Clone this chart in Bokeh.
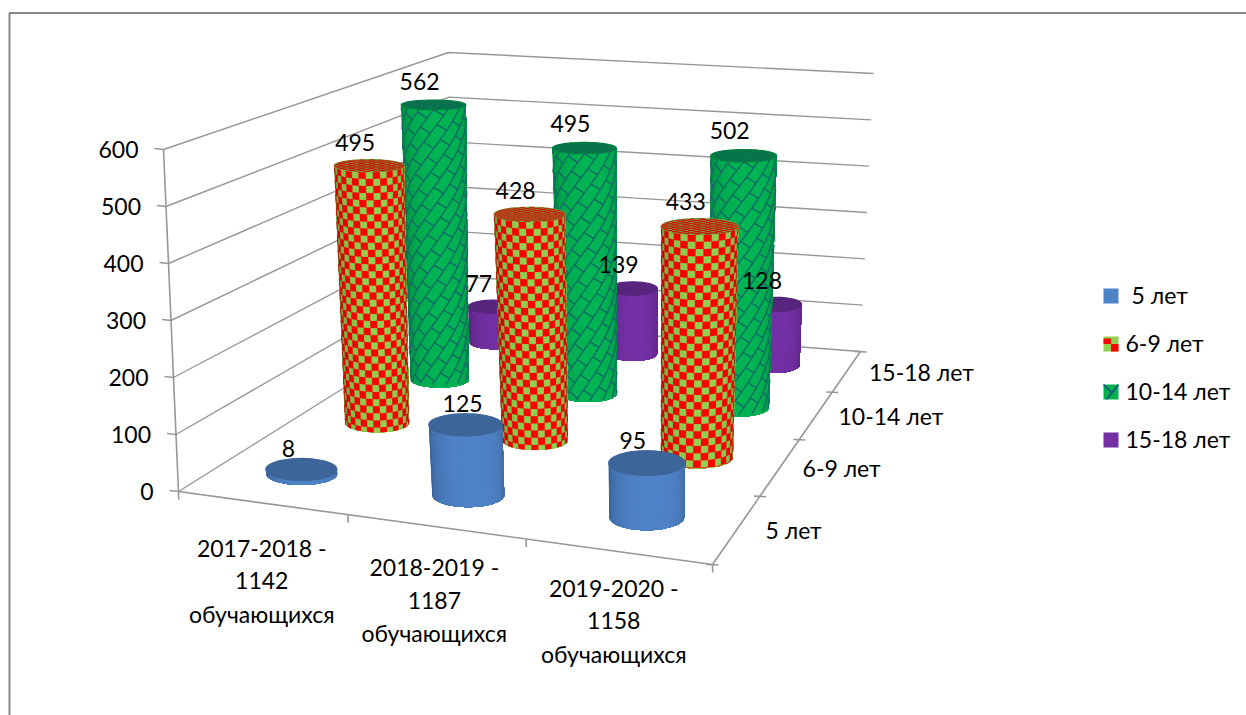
import math
import numpy as np
from bokeh.plotting import figure
from bokeh.models import ColumnDataSource
from bokeh.core.properties import value
from bokeh.embed import file_html
from bokeh.resources import INLINE

# ---------- data ----------
years = [["2017-2018 -", "1142", "обучающихся"],
         ["2018-2019 -", "1187", "обучающихся"],
         ["2019-2020 -", "1158", "обучающихся"]]
series_names = ["5 лет", "6-9 лет", "10-14 лет", "15-18 лет"]
v_5 = [8, 125, 95]
v_6_9 = [495, 428, 433]
v_10_14 = [562, 495, 502]
v_15_18 = [77, 139, 128]
series_values = [v_5, v_6_9, v_10_14, v_15_18]
value_ticks = [0, 100, 200, 300, 400, 500, 600]

FONT = value("Lato")
FS = "23px"
GRAY = "#979797"

W, H = 1246, 715
p = figure(width=W, height=H, x_range=(0, W), y_range=(H, 0),
           output_backend="svg", toolbar_location=None, min_border=0)
p.axis.visible = False
p.grid.visible = False
p.outline_line_color = None
p.background_fill_color = "white"

# ---------- projection ----------
def homography(pts):
    src = [(0, 0), (1, 0), (1, 1), (0, 1)]
    A, b = [], []
    for (u, v), (x, y) in zip(src, pts):
        A.append([u, v, 1, 0, 0, 0, -u * x, -v * x]); b.append(x)
        A.append([0, 0, 0, u, v, 1, -u * y, -v * y]); b.append(y)
    h = np.linalg.solve(np.array(A, float), np.array(b, float))
    return np.append(h, 1).reshape(3, 3)

FLOOR = homography([(178, 491), (712, 564), (860, 351), (451, 320)])
TOP = homography([(163, 149), (722, 209), (873, 73), (448, 52)])

def proj(u, v, val):
    f = val / 600.0
    u = u + 0.022 * math.sin(math.pi * u)
    q = np.array([u, v, 1.0])
    a = FLOOR @ q; b = TOP @ q
    ax, ay = a[0] / a[2], a[1] / a[2]
    bx, by = b[0] / b[2], b[1] / b[2]
    return ax + (bx - ax) * f, ay + (by - ay) * f

def line(pts, width=1.5, color=GRAY):
    p.line([a[0] for a in pts], [a[1] for a in pts], line_color=color, line_width=width)

# ---------- border ----------
line([(9, 715), (9, 12.5), (1246, 12.5)], 2, "#868686")

# ---------- walls ----------
for t in value_ticks:
    line([proj(0, 0, t), proj(0, 1, t), proj(1, 1, t)], 1.4)
line([proj(0, 0, 0), proj(0, 0, 600)], 1.6)
line([proj(0, 0, 0), proj(1, 0, 0), proj(1, 1, 0)], 1.6)
for t in value_ticks:
    x, y = proj(0, 0, t)
    line([(x - 9, y - 1), (x, y)], 1.6)
for k in range(4):
    x, y = proj(k / 3, 0, 0)
    line([(x, y), (x + 0.2, y + 8)], 1.6)
for k in range(5):
    x, y = proj(1, k / 4, 0)
    line([(x - 6, y), (x + 6, y + 0.5)], 1.6)

# ---------- cylinders ----------
RV = 0.05
HALF0 = [[35.5, 36, 37.5], [32, 33, 36], [29, 29, 30], [24, 24, 25]]
SHIFT = [[-2, -4, 0], [0, 0, 0], [0, 0, 0], [0, 0, 0]]
TAPER = 0.006
BASE = {0: (0x4f, 0x83, 0xc8), 3: (0x72, 0x30, 0xa4)}
CHECK = [(0xff, 0x00, 0x00), (0x92, 0xd0, 0x50)]
GREEN = (0x00, 0xb4, 0x54)
WEAVE = "#146a62"

def shade(rgb, k):
    return "#%02x%02x%02x" % tuple(max(0, min(255, int(round(c * k)))) for c in rgb)

def sh(phi):
    return 1.0 - 0.30 * (abs(phi - 0.15) / 1.72) ** 2.2

class Cyl:
    def __init__(self, si, yi):
        self.cu, self.cv = (yi + 0.5) / 3, (si + 0.5) / 4
        self.val = series_values[si][yi]
        self.h0 = HALF0[si][yi]
        self.shift = SHIFT[si][yi]

    def pt(self, a, b, val):
        """a, b in the unit disc of the cylinder (b>0 = away from viewer); screen point."""
        cx, cy = proj(self.cu, self.cv, val)
        by = abs(proj(self.cu, self.cv - RV, val)[1] - proj(self.cu, self.cv + RV, val)[1]) / 2
        return cx + self.shift + (self.h0 + TAPER * val) * a, cy - by * b

    def surf(self, phi, val):
        return self.pt(math.sin(phi), -math.cos(phi), val)

    def ring(self, val, n=64):
        return [self.pt(math.cos(t), math.sin(t), val)
                for t in np.linspace(0, 2 * math.pi, n, endpoint=False)]

def patches(polys, colors, lw=1.2):
    src = ColumnDataSource(dict(xs=[[a[0] for a in q] for q in polys],
                                ys=[[a[1] for a in q] for q in polys], c=colors))
    p.patches("xs", "ys", source=src, fill_color="c", line_color="c", line_width=lw)

def segs(items, color, lw):
    p.multi_line([[a[0] for a in s] for s in items], [[a[1] for a in s] for s in items],
                 line_color=color, line_width=lw)

def plain_side(c, rgb):
    # painted left to right; each layer reaches the right edge, so no seams show
    ph = np.linspace(-math.pi / 2, math.pi / 2, 49)
    bottom = [c.surf(a, 0) for a in ph]
    top = [c.surf(a, c.val) for a in ph]
    polys, cols = [], []
    for i in range(len(ph) - 1):
        polys.append(bottom[i:] + top[i:][::-1])
        cols.append(shade(rgb, sh((ph[i] + ph[i + 1]) / 2)))
    src = ColumnDataSource(dict(xs=[[a[0] for a in q] for q in polys],
                                ys=[[a[1] for a in q] for q in polys], c=cols))
    p.patches("xs", "ys", source=src, fill_color="c", line_color=None)

def checker_side(c):
    plain_side(c, CHECK[1])
    cols_n, row_units = 15, 13.5
    polys, cols = [], []
    ph = np.linspace(-math.pi / 2, math.pi / 2, cols_n + 1)
    for r in range(int(c.val / row_units) + 1):
        hi = c.val - r * row_units
        lo = max(0, hi - row_units)
        for j in range(cols_n):
            if (r + j) % 2:
                continue
            sub = np.linspace(ph[j], ph[j + 1], 3)
            polys.append([c.surf(s, hi) for s in sub] + [c.surf(s, lo) for s in sub[::-1]])
            cols.append(shade(CHECK[0], sh((ph[j] + ph[j + 1]) / 2)))
    patches(polys, cols, 0.2)

def checker_cap(c):
    patches([c.ring(c.val)], [shade(CHECK[1], 0.8)])
    n = 14
    polys, cols = [], []
    e = np.linspace(-1, 1, n + 1)
    for i in range(n):
        for j in range(n):
            if (i + j) % 2:
                continue
            corners = [(e[i], e[j]), (e[i + 1], e[j]), (e[i + 1], e[j + 1]), (e[i], e[j + 1])]
            if min(a * a + b * b for a, b in corners) >= 1:
                continue
            q = []
            for a, b in corners:
                d = max(1.0, math.hypot(a, b))
                q.append(c.pt(a / d, b / d, c.val))
            polys.append(q)
            cols.append(shade(CHECK[0], 0.85))
    patches(polys, cols, 0.2)

def weave_side(c):
    plain_side(c, GREEN)
    R = c.h0 + TAPER * c.val
    px = 0.56
    spacing, slope, brick, drop = 15.0, 0.7, 20.0, 7.0
    total = c.val * px
    def xy(s, h):
        phi = s / R
        if abs(phi) > math.pi / 2 or h < 0 or h > total:
            return None
        return c.surf(phi, c.val - h / px)
    items = []
    for k in range(-30, 40):
        s0 = k * spacing
        prev = None
        for h in np.arange(0, total + 3, 3):
            cur = xy(s0 - h * slope, h)
            if prev is not None and cur is not None:
                items.append([prev, cur])
            prev = cur
        m = (k * (drop + brick / 2)) % brick
        while m < total + brick:
            a = xy(s0 - m * slope, m)
            b = xy(s0 + spacing - (m + drop) * slope, m + drop)
            if a is not None and b is not None:
                items.append([a, b])
            m += brick
    segs(items, WEAVE, 1.4)

def weave_cap(c):
    patches([c.ring(c.val)], [shade(GREEN, 0.72)])
    items = []
    for o in np.linspace(-1.2, 1.2, 9):
        q = []
        for a in np.linspace(-1, 1, 24):
            b = o + a * 0.8
            if a * a + b * b <= 1:
                q.append(c.pt(a, b, c.val))
        if len(q) > 1:
            items.append(q)
    segs(items, "#0f6a5a", 1.0)

LABEL_DX = [[-13, -3, -14], [-14, -14, -14], [-14, -14, -14], [-14, -14, -14]]
LABEL_DY = [-10, -17, -19, -17]
labels = []
for si in [3, 2, 1, 0]:
    for yi in range(3):
        c = Cyl(si, yi)
        if si in BASE:
            plain_side(c, BASE[si])
            patches([c.ring(c.val)], [shade(BASE[si], 0.77)])
        elif si == 1:
            checker_side(c)
            checker_cap(c)
        else:
            weave_side(c)
            weave_cap(c)
        x, _ = proj(c.cu, c.cv, c.val)
        ytop = min(a[1] for a in c.ring(c.val))
        labels.append((x + c.shift + LABEL_DX[si][yi], ytop + LABEL_DY[si], str(c.val)))

def text(x, y, s, align="center"):
    p.text([x], [y], text=[s], text_font=FONT, text_font_size=FS, text_color="black",
           text_align=align, text_baseline="middle")

for x, y, s in labels:
    text(x, y, s)

# ---------- axis labels ----------
for t in value_ticks:
    x, y = proj(0, 0, t)
    text(x - 25, y, str(t), "right")
for yi, rows in enumerate(years):
    x, y = proj((yi + 0.5) / 3, 0, 0)
    for r, s in enumerate(rows):
        text(x - 2 * yi, y + 45 - 4.5 * yi + r * 33, s)
SERIES_LABEL_DX = [28, 22, 22, 22]
for si, s in enumerate(series_names):
    x, y = proj(1, (si + 0.5) / 4, 0)
    text(x + SERIES_LABEL_DX[si], y + 1, s, "left")

# ---------- legend ----------
LX, LY, LS, LG = 1103, 288, 15, 48
for i, s in enumerate(series_names):
    y = LY + i * LG
    x0, x1, y0, y1 = LX, LX + LS, y, y + LS
    if i == 1:
        p.quad(left=x0, right=x1, top=y0, bottom=y1, fill_color="#92d050", line_color=None)
        xm, ym = (x0 + x1) / 2, (y0 + y1) / 2
        p.quad(left=[x0, xm], right=[xm, x1], top=[y0 + 2, ym], bottom=[ym, y1], fill_color="#ff0000", line_color=None)
    elif i == 2:
        p.quad(left=x0, right=x1, top=y0, bottom=y1, fill_color="#00b050", line_color=None)
        p.multi_line([[x0, x0 + 8], [x1, x0 + 3]], [[y0, y0 + 8], [y0, y1]], line_color="#1f497d", line_width=1.4)
    else:
        p.quad(left=x0, right=x1, top=y0, bottom=y1, fill_color=shade(BASE[i], 1), line_color=None)
    text(1131 if i == 0 else 1125, y + 6.5, s, "left")

open("out.html", "w").write(file_html(p, INLINE))
